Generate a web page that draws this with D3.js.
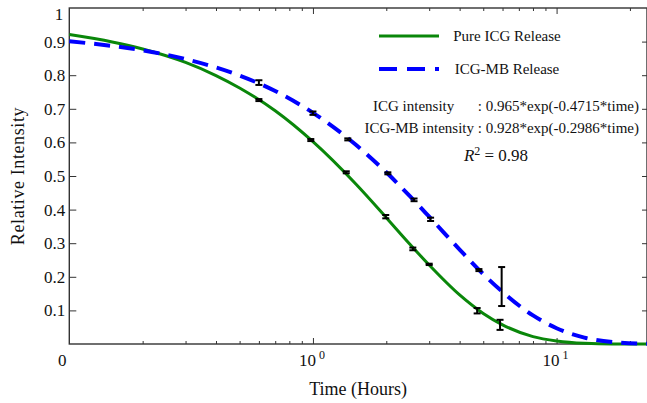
<!DOCTYPE html>
<html>
<head>
<meta charset="utf-8">
<script src="https://cdn.jsdelivr.net/npm/d3@7"></script>
<style>
  body { margin: 0; background: #fff; }
  svg { display: block; font-family: "Liberation Serif", "Times New Roman", serif; }
</style>
</head>
<body>
<svg id="chart"></svg>
<script>
// series names (legend)
var seriesNames = ["Pure ICG Release", "ICG-MB Release"];

// fitted curves
var curveTime  = [0.1, 0.15, 0.2, 0.3, 0.4, 0.5, 0.7, 1, 1.5, 2, 2.5, 3, 4, 5, 6, 8, 10, 13, 17, 23.5];
var curveICG   = [0.921, 0.899, 0.878, 0.838, 0.799, 0.762, 0.694, 0.602, 0.476, 0.376, 0.297, 0.235, 0.146, 0.091, 0.057, 0.022, 0.009, 0.002, 0.000, 0.000];
var curveICGMB = [0.901, 0.887, 0.874, 0.848, 0.823, 0.799, 0.753, 0.688, 0.593, 0.511, 0.440, 0.379, 0.281, 0.208, 0.155, 0.085, 0.047, 0.019, 0.006, 0.001];

// measured points with error bars
var icgTime   = [0.60, 0.98, 1.37, 1.99, 2.57, 3.00, 4.72, 5.86];
var icgValue  = [0.726, 0.607, 0.511, 0.379, 0.283, 0.237, 0.099, 0.057];
var icgErr    = [0.003, 0.003, 0.003, 0.005, 0.004, 0.002, 0.008, 0.015];
var mbTime    = [0.60, 1.00, 1.39, 2.03, 2.60, 3.04, 4.80, 5.95];
var mbValue   = [0.778, 0.687, 0.609, 0.508, 0.429, 0.371, 0.220, 0.171];
var mbErr     = [0.007, 0.005, 0.003, 0.003, 0.004, 0.005, 0.003, 0.058];

// ticks
var yTicks = [0.1, 0.2, 0.3, 0.4, 0.5, 0.6, 0.7, 0.8, 0.9, 1];
var xMajor = [1, 10];
var xMinor = [0.2, 0.3, 0.4, 0.5, 0.6, 0.7, 0.8, 0.9, 2, 3, 4, 5, 6, 7, 8, 9, 20];
var xLabels = [{v: 0.1, base: "0", exp: ""}, {v: 1, base: "10", exp: "0"}, {v: 10, base: "10", exp: "1"}];

var width = 647, height = 403;
var pLeft = 69.3, pRight = 647, pTop = 8, pBottom = 344;

var svg = d3.select("#chart").attr("width", width).attr("height", height);

var x = d3.scaleLog().domain([0.1, 23.5]).range([pLeft, pRight]);
var y = d3.scaleLinear().domain([0, 1]).range([pBottom, pTop]);

var axisColor = "#333";

// frame
svg.append("rect")
  .attr("x", pLeft).attr("y", pTop)
  .attr("width", pRight - pLeft).attr("height", pBottom - pTop)
  .attr("fill", "none").attr("stroke", axisColor).attr("stroke-width", 1.4);

function tidy(g) {
  g.select(".domain").remove();
  g.selectAll(".tick line").attr("stroke", axisColor).attr("stroke-width", 1);
}

// bottom & top ticks (inward)
svg.append("g").attr("transform", "translate(0," + pBottom + ")")
  .call(d3.axisBottom(x).tickValues(xMajor).tickSize(-6).tickFormat("")).call(tidy);
svg.append("g").attr("transform", "translate(0," + pBottom + ")")
  .call(d3.axisBottom(x).tickValues(xMinor).tickSize(-3).tickFormat("")).call(tidy);
svg.append("g").attr("transform", "translate(0," + pTop + ")")
  .call(d3.axisTop(x).tickValues(xMajor).tickSize(-6).tickFormat("")).call(tidy);
svg.append("g").attr("transform", "translate(0," + pTop + ")")
  .call(d3.axisTop(x).tickValues(xMinor).tickSize(-3).tickFormat("")).call(tidy);

// left & right
var yAxisG = svg.append("g").attr("transform", "translate(" + pLeft + ",0)")
  .call(d3.axisLeft(y).tickValues(yTicks).tickSize(-7).tickPadding(4)
    .tickFormat(function(d) { return d === 1 ? "1" : d3.format(".1f")(d); }))
  .call(tidy);
yAxisG.selectAll(".tick text")
  .attr("font-family", "Liberation Serif").attr("font-size", 17).attr("fill", "#111");
yAxisG.selectAll(".tick").filter(function(d) { return d === 1; }).select("line").remove();
yAxisG.selectAll(".tick").filter(function(d) { return d === 1; }).select("text")
  .attr("dy", "0.7em").attr("dx", -2);

svg.append("g").attr("transform", "translate(" + pRight + ",0)")
  .call(d3.axisRight(y).tickValues(yTicks.slice(0, 9)).tickSize(-5).tickFormat(""))
  .call(tidy);

// x tick labels
var xl = svg.append("g").attr("font-size", 17).attr("fill", "#111");
xLabels.forEach(function(t) {
  var txt = xl.append("text")
    .attr("x", t.v === 0.1 ? x(t.v) - 7 : x(t.v) - 1)
    .attr("y", 366)
    .attr("text-anchor", "middle");
  txt.append("tspan").text(t.base);
  if (t.exp) {
    txt.append("tspan").attr("dy", -7).attr("dx", 3).attr("font-size", 12).text(t.exp);
  }
});

// axis titles
svg.append("text")
  .attr("transform", "translate(24," + ((pTop + pBottom) / 2) + ") rotate(-90)")
  .attr("text-anchor", "middle").attr("font-size", 18).attr("fill", "#111")
  .attr("letter-spacing", 0.6)
  .text("Relative  Intensity");
svg.append("text")
  .attr("x", (pLeft + pRight) / 2).attr("y", 395)
  .attr("text-anchor", "middle").attr("font-size", 18).attr("fill", "#111")
  .text("Time (Hours)");

// curves
var green = "#0a870a", blue = "#0000ff";
function lineOf(values) {
  return d3.line()
    .x(function(d, i) { return x(curveTime[i]); })
    .y(function(d) { return y(d); })
    .curve(d3.curveMonotoneX)(values);
}
svg.append("path").attr("d", lineOf(curveICG))
  .attr("fill", "none").attr("stroke", green).attr("stroke-width", 3);
svg.append("path").attr("d", lineOf(curveICGMB))
  .attr("fill", "none").attr("stroke", blue).attr("stroke-width", 4)
  .attr("stroke-dasharray", "16,9");

// error bars
function errorBars(times, values, errs) {
  var g = svg.append("g").attr("stroke", "#000").attr("stroke-width", 2);
  var data = times.map(function(t, i) { return {t: t, v: values[i], e: errs[i]}; });
  var eb = g.selectAll("g").data(data).enter().append("g");
  eb.append("line")
    .attr("x1", function(d) { return x(d.t); }).attr("x2", function(d) { return x(d.t); })
    .attr("y1", function(d) { return y(d.v + d.e); }).attr("y2", function(d) { return y(d.v - d.e); });
  eb.append("line")
    .attr("x1", function(d) { return x(d.t) - 3.5; }).attr("x2", function(d) { return x(d.t) + 3.5; })
    .attr("y1", function(d) { return y(d.v + d.e); }).attr("y2", function(d) { return y(d.v + d.e); });
  eb.append("line")
    .attr("x1", function(d) { return x(d.t) - 3.5; }).attr("x2", function(d) { return x(d.t) + 3.5; })
    .attr("y1", function(d) { return y(d.v - d.e); }).attr("y2", function(d) { return y(d.v - d.e); });
}
errorBars(icgTime, icgValue, icgErr);
errorBars(mbTime, mbValue, mbErr);

// legend
var legend = svg.append("g");
[{c: green, w: 3, dash: null, ly: 36}, {c: blue, w: 4, dash: "18,10", ly: 69}].forEach(function(s, i) {
  legend.append("line")
    .attr("x1", 379).attr("x2", 439).attr("y1", s.ly).attr("y2", s.ly)
    .attr("stroke", s.c).attr("stroke-width", s.w)
    .attr("stroke-dasharray", s.dash);
  legend.append("text")
    .attr("x", 507).attr("y", s.ly + 5)
    .attr("text-anchor", "middle").attr("font-size", 15).attr("fill", "#111")
    .text(seriesNames[i]);
});

// fit annotation
var ann = svg.append("g").attr("font-size", 15).attr("fill", "#111");
ann.append("text").attr("x", 373).attr("y", 111).text("ICG intensity");
ann.append("text").attr("x", 639).attr("y", 111).attr("text-anchor", "end")
  .text(": 0.965*exp(-0.4715*time)");
ann.append("text").attr("x", 639).attr("y", 133).attr("text-anchor", "end")
  .text("ICG-MB intensity : 0.928*exp(-0.2986*time)");
var r2 = ann.append("text").attr("x", 496).attr("y", 161).attr("text-anchor", "middle")
  .attr("font-size", 17);
r2.append("tspan").attr("font-style", "italic").text("R");
r2.append("tspan").attr("dy", -6).attr("font-size", 12).text("2");
r2.append("tspan").attr("dy", 6).text(" = 0.98");
</script>
</body>
</html>
